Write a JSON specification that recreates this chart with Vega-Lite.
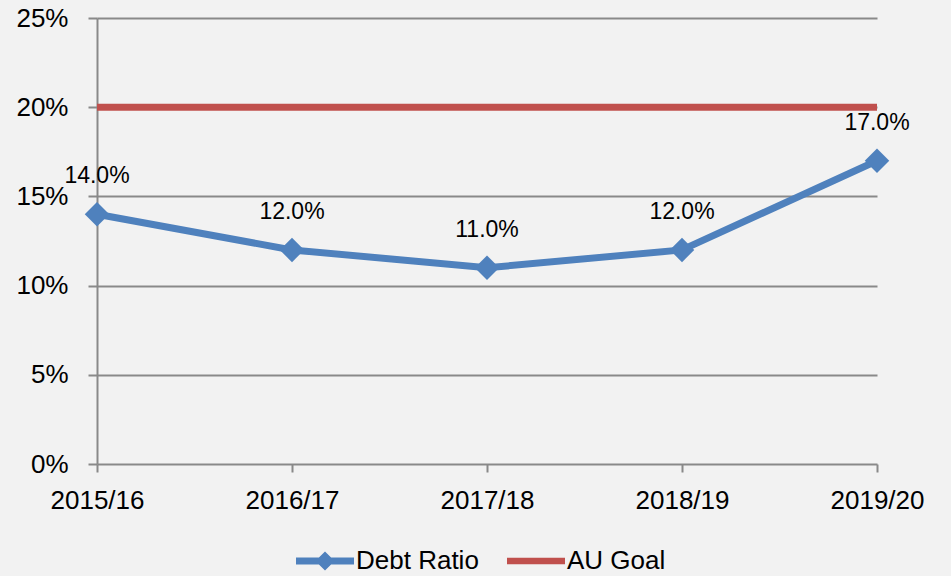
{
  "$schema": "https://vega.github.io/schema/vega-lite/v6.json",
  "width": 780,
  "height": 446,
  "autosize": "none",
  "padding": {"left": 97, "top": 18, "right": 74, "bottom": 112},
  "background": "#f2f2f2",
  "config": {
    "view": {"stroke": null},
    "font": "Liberation Sans",
    "axis": {"labelFont": "Liberation Sans", "labelColor": "#000000", "labelFontSize": 26}
  },
  "data": {
    "values": [
      {"year": "2015/16", "series": "Debt Ratio", "value": 0.14},
      {"year": "2016/17", "series": "Debt Ratio", "value": 0.12},
      {"year": "2017/18", "series": "Debt Ratio", "value": 0.11},
      {"year": "2018/19", "series": "Debt Ratio", "value": 0.12},
      {"year": "2019/20", "series": "Debt Ratio", "value": 0.17},
      {"year": "2015/16", "series": "AU Goal", "value": 0.20},
      {"year": "2016/17", "series": "AU Goal", "value": 0.20},
      {"year": "2017/18", "series": "AU Goal", "value": 0.20},
      {"year": "2018/19", "series": "AU Goal", "value": 0.20},
      {"year": "2019/20", "series": "AU Goal", "value": 0.20}
    ]
  },
  "encoding": {
    "x": {
      "field": "year", "type": "ordinal",
      "scale": {"type": "point", "padding": 0},
      "axis": {"title": null, "labelAngle": 0, "grid": false, "domain": false, "tickColor": "#898989", "tickWidth": 2, "tickSize": 8, "labelPadding": 15}
    },
    "y": {
      "field": "value", "type": "quantitative",
      "scale": {"domain": [0, 0.25]},
      "axis": {"title": null, "format": ".0%", "values": [0, 0.05, 0.1, 0.15, 0.2, 0.25], "grid": true, "gridColor": "#898989", "gridWidth": 2, "domainColor": "#898989", "domainWidth": 2, "tickColor": "#898989", "tickWidth": 2, "tickSize": 9, "labelPadding": 20}
    }
  },
  "layer": [
    {
      "mark": {"type": "line", "strokeWidth": 7, "strokeCap": "butt"},
      "encoding": {
        "color": {
          "field": "series", "type": "nominal",
          "scale": {"domain": ["Debt Ratio", "AU Goal"], "range": ["#4f81bd", "#c0504d"]},
          "legend": {
            "title": null, "orient": "none", "legendX": 199, "legendY": 514, "direction": "horizontal",
            "labelFontSize": 26, "labelFont": "Liberation Sans", "labelColor": "#000000",
            "symbolSize": 3364, "labelOffset": 2, "columnPadding": 28, "symbolStrokeWidth": 0,
            "encode": {
              "symbols": {
                "update": {
                  "shape": {"signal": "datum.value === 'Debt Ratio' ? 'M-1,-0.12L-0.21,-0.12L0,-0.33L0.21,-0.12L1,-0.12L1,0.12L0.21,0.12L0,0.33L-0.21,0.12L-1,0.12Z' : 'M-1,-0.11L1,-0.11L1,0.11L-1,0.11Z'"},
                  "fill": {"signal": "scale('color', datum.value)"},
                  "fillOpacity": {"value": 1},
                  "strokeWidth": {"value": 0},
                  "size": {"value": 3364}
                }
              }
            }
          }
        }
      }
    },
    {
      "transform": [{"filter": "datum.series === 'Debt Ratio'"}],
      "mark": {"type": "point", "shape": "diamond", "filled": true, "size": 600, "opacity": 1, "color": "#4f81bd"}
    },
    {
      "transform": [{"filter": "datum.series === 'Debt Ratio'"}],
      "mark": {"type": "text", "dy": -38, "fontSize": 23, "font": "Liberation Sans", "color": "#000000"},
      "encoding": {"text": {"field": "value", "type": "quantitative", "format": ".1%"}}
    }
  ]
}
